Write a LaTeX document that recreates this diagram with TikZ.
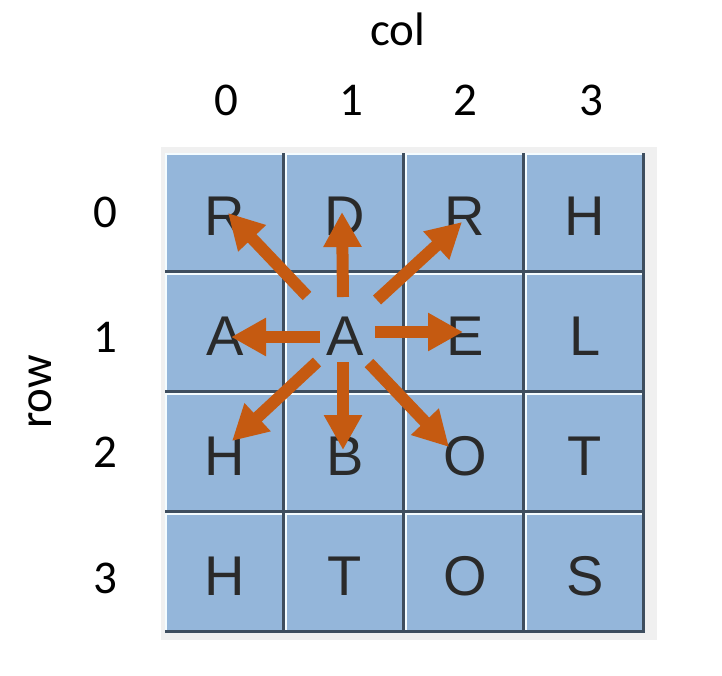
\documentclass[tikz,border=0pt]{standalone}
\usepackage{fontspec}
\setmainfont{Carlito}
\newfontfamily\cellfont{Liberation Sans}
\usetikzlibrary{arrows.meta}
\definecolor{panelgray}{HTML}{F0F0F0}
\definecolor{cellblue}{HTML}{94B6DA}
\definecolor{cellshadow}{HTML}{3E4E5F}
\definecolor{cellhi}{HTML}{F4FCFF}
\definecolor{arrorange}{HTML}{C55A11}
\definecolor{lettergray}{HTML}{2A2A2A}
\tikzset{
  lbl/.style={font=\fontsize{47}{50}\selectfont, inner sep=0pt, anchor=base, text=black},
  cellbox/.style={fill=cellblue, minimum size=120pt, inner sep=0pt, anchor=north west},
  letter/.style={font=\cellfont\fontsize{56}{60}\selectfont, text=lettergray, inner sep=0pt, anchor=base},
  arr/.style={draw=arrorange, line width=12pt, -{Triangle[length=35pt,width=36pt]}},
}
\begin{document}
\begin{tikzpicture}[x=1pt,y=-1pt]
\useasboundingbox (0,0) rectangle (722,675);
\fill[white] (0,0) rectangle (722,675);
% panel
\fill[panelgray] (161,147) rectangle (657,640);
% cells
\foreach \r/\row in {0/{R,D,R,H},1/{A,A,E,L},2/{H,B,O,T},3/{H,T,O,S}} {
  \foreach \ch [count=\ci from 0] in \row {
    \pgfmathsetmacro{\xa}{165+120*\ci}
    \pgfmathsetmacro{\ya}{153+120*\r}
    \pgfmathsetmacro{\xb}{\xa+120}
    \pgfmathsetmacro{\yb}{\ya+120}
    \node[cellbox] (c-\ci-\r) at (\xa,\ya) {};
    \draw[cellhi, line width=2pt] (\xa+1,\yb-2) -- (\xa+1,\ya+1) -- (\xb-2,\ya+1);
    \draw[cellshadow, line width=3pt] (\xb-1.5,\ya) -- (\xb-1.5,\yb-1.5) -- (\xa,\yb-1.5);
    \node[letter] (l-\ci-\r) at (\xa+60,\ya+82) {\ch};
  }
}
% labels
\node[lbl] (col) at (398,45) {col};
\node[lbl] (cx0) at (226,115) {0};
\node[lbl] (cx1) at (351,115) {1};
\node[lbl] (cx2) at (465,115) {2};
\node[lbl] (cx3) at (591,115) {3};
\node[lbl] (ry0) at (105,227) {0};
\node[lbl] (ry1) at (105,352) {1};
\node[lbl] (ry2) at (105,467) {2};
\node[lbl] (ry3) at (105,593) {3};
\node[lbl, rotate=90] (rowlbl) at (51,392) {row};
% arrow end points
\coordinate (su)  at (343,297); \coordinate (tu)  at (342,212);
\coordinate (sl)  at (320,337); \coordinate (tl)  at (231,337);
\coordinate (sr)  at (375,332); \coordinate (tr)  at (463,332);
\coordinate (sd)  at (343,362); \coordinate (td)  at (343,450);
\coordinate (sul) at (307,296); \coordinate (tul) at (228,213);
\coordinate (sur) at (377,300); \coordinate (tur) at (462,222);
\coordinate (sdl) at (317,362); \coordinate (tdl) at (232,441);
\coordinate (sdr) at (369,363); \coordinate (tdr) at (449,447);
\draw[arr] (su) -- (tu);
\draw[arr] (sl) -- (tl);
\draw[arr] (sr) -- (tr);
\draw[arr] (sd) -- (td);
\draw[arr] (sul) -- (tul);
\draw[arr] (sur) -- (tur);
\draw[arr] (sdl) -- (tdl);
\draw[arr] (sdr) -- (tdr);
\end{tikzpicture}
\end{document}
